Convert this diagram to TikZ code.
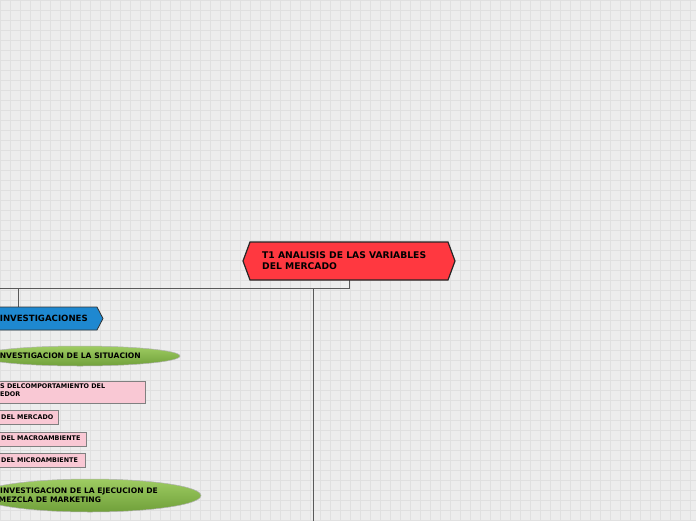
\documentclass[tikz,border=0pt]{standalone}
\usepackage{fontspec}
\setmainfont{DejaVu Sans}
\begin{document}
\begin{tikzpicture}[x=1pt,y=-1pt,
  lbl/.style={font=\bfseries\fontsize{#1}{#1}\selectfont,text=black,inner sep=0pt,align=left},
  conn/.style={draw=black!65,line width=1pt},
  pinkbox/.style={fill={rgb,255:red,249;green,200;blue,212},draw=black!50,line width=0.6pt},
  greenell/.style={top color={rgb,255:red,158;green,204;blue,98},bottom color={rgb,255:red,112;green,160;blue,58},draw=black!30,line width=0.5pt}]
\useasboundingbox (0,0) rectangle (696,520);
\clip (0,0) rectangle (696,520);
\fill[color={rgb,255:red,237;green,237;blue,237}] (0,0) rectangle (696,520);
\foreach \i in {0,10,...,700} \draw[color={rgb,255:red,224;green,224;blue,224},line width=0.5pt] (\i,0) -- (\i,520);
\foreach \j in {0,10,...,520} \draw[color={rgb,255:red,224;green,224;blue,224},line width=0.5pt] (0,\j) -- (700,\j);
% connectors
\coordinate (rb) at (349,280);
\coordinate (j1) at (349,288);
\coordinate (jl) at (-5,288);
\coordinate (ja) at (18,288);
\coordinate (ia) at (18,307);
\coordinate (jb) at (313,288);
\coordinate (ib) at (313,525);
\draw[conn] (rb) -- (j1) -- (jl);
\draw[conn] (ja) -- (ia);
\draw[conn] (jb) -- (ib);
% root
\draw[fill={rgb,255:red,255;green,56;blue,64},draw=black!85,line width=1.2pt]
  (243,261) -- (250,242) -- (448,242) -- (455,261) -- (448,280) -- (250,280) -- cycle;
\node[lbl=9.2,anchor=north west] (root) at (262,251.5) {T1 ANALISIS DE LAS VARIABLES\\[1.5pt]DEL MERCADO};
% investigaciones
\draw[fill={rgb,255:red,30;green,136;blue,208},draw=black!80,line width=0.8pt]
  (-5,307) -- (97,307) -- (103,318.5) -- (97,330) -- (-5,330) -- cycle;
\node[lbl=8.6,anchor=east] (inv) at (88,318.5) {INVESTIGACIONES};
% ellipses
\draw[greenell] (80,356) ellipse [x radius=100,y radius=10];
\node[lbl=7.6,anchor=east] (e1) at (141,356) {INVESTIGACION DE LA SITUACION};
\draw[greenell] (90,495.5) ellipse [x radius=111,y radius=16.5];
\node[lbl=7.6,anchor=north east] (e2) at (158,488) {INVESTIGACION DE LA EJECUCION DE};
\node[lbl=7.6,anchor=north west] (e2b) at (-1.5,497) {MEZCLA DE MARKETING};
% pink boxes
\draw[pinkbox] (-5,381) rectangle (145,403);
\node[lbl=6.4,anchor=north west] (p1) at (0,384) {S DELCOMPORTAMIENTO DEL\\[1pt]EDOR};
\draw[pinkbox] (-5,410.5) rectangle (58,424);
\node[lbl=6.4,anchor=west] (p2) at (1,417.5) {DEL MERCADO};
\draw[pinkbox] (-5,432) rectangle (86,446);
\node[lbl=6.4,anchor=west] (p3) at (1,438.5) {DEL MACROAMBIENTE};
\draw[pinkbox] (-5,453.5) rectangle (85,467.5);
\node[lbl=6.4,anchor=west] (p4) at (1,460.5) {DEL MICROAMBIENTE};
\end{tikzpicture}
\end{document}
